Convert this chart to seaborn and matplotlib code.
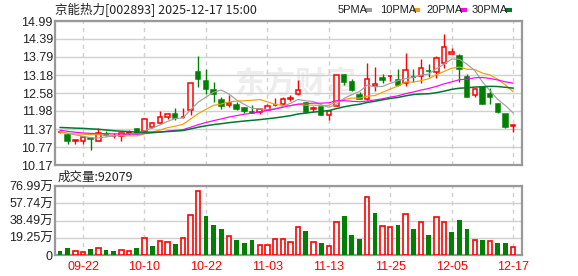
import numpy as np
import pandas as pd
import matplotlib
matplotlib.use("Agg")
import matplotlib.pyplot as plt
from matplotlib.patches import Rectangle
import seaborn as sns

# ---------------- data ----------------
dates = ["09-17", "09-18", "09-19", "09-22", "09-23", "09-24", "09-25", "09-26", "09-29", "09-30",
         "10-09", "10-10", "10-13", "10-14", "10-15", "10-16", "10-17", "10-20", "10-21", "10-22",
         "10-23", "10-24", "10-27", "10-28", "10-29", "10-30", "10-31", "11-03", "11-04", "11-05",
         "11-06", "11-07", "11-10", "11-11", "11-12", "11-13", "11-14", "11-17", "11-18", "11-19",
         "11-20", "11-21", "11-24", "11-25", "11-26", "11-27", "11-28", "12-01", "12-02", "12-03",
         "12-04", "12-05", "12-08", "12-09", "12-10", "12-11", "12-12", "12-15", "12-16", "12-17"]

opens = [11.26, 11.19, 10.98, 10.99, 11.07, 10.97, 11.21, 11.14, 11.13, 11.25,
         11.37, 11.30, 11.45, 11.59, 11.76, 11.87, 11.76, 12.00, 13.29, 12.99,
         12.67, 12.36, 12.17, 12.17, 12.07, 11.95, 11.95, 12.02, 12.17, 12.20,
         12.39, 12.56, 12.26, 12.06, 12.11, 11.85, 12.15, 13.19, 12.96, 12.52,
         12.39, 12.81, 13.07, 13.14, 13.00, 12.91, 13.13, 13.16, 13.33, 13.27,
         13.60, 13.89, 13.82, 13.12, 12.52, 12.78, 12.56, 12.20, 11.87, 11.48]
highs = [11.31, 11.22, 11.05, 11.12, 11.09, 11.41, 11.32, 11.24, 11.25, 11.35,
         11.40, 11.75, 11.62, 11.98, 11.90, 12.09, 12.07, 12.93, 13.82, 13.40,
         12.94, 12.44, 12.50, 12.28, 12.12, 12.18, 12.05, 12.20, 12.40, 12.43,
         12.51, 13.01, 12.27, 12.14, 12.14, 11.99, 13.19, 13.20, 13.06, 12.62,
         13.57, 13.44, 13.21, 13.18, 13.39, 13.93, 13.37, 13.71, 13.55, 13.82,
         14.55, 14.08, 13.87, 13.20, 12.74, 12.80, 12.76, 12.24, 11.88, 11.52]
lows = [11.25, 10.88, 10.88, 10.88, 10.66, 10.96, 11.14, 11.06, 10.97, 11.19,
        11.20, 11.28, 11.40, 11.56, 11.70, 11.68, 11.74, 11.85, 12.78, 12.56,
        12.28, 12.06, 12.10, 12.00, 11.90, 11.90, 11.88, 12.00, 12.15, 12.17,
        12.30, 12.50, 11.91, 11.93, 11.84, 11.68, 12.13, 12.86, 12.66, 12.37,
        12.35, 12.64, 12.93, 12.98, 12.80, 12.83, 12.95, 12.92, 13.12, 13.09,
        13.43, 13.87, 12.96, 12.46, 12.43, 12.21, 12.20, 11.90, 11.41, 11.29]
closes = [11.28, 10.99, 11.00, 11.10, 11.04, 11.24, 11.17, 11.15, 11.24, 11.27,
          11.24, 11.70, 11.56, 11.77, 11.87, 11.74, 11.78, 12.92, 13.05, 12.72,
          12.56, 12.14, 12.26, 12.04, 11.99, 11.91, 12.03, 12.15, 12.19, 12.39,
          12.41, 12.67, 11.93, 12.07, 11.85, 11.98, 13.18, 12.94, 12.67, 12.39,
          13.05, 12.88, 13.03, 13.16, 12.86, 13.36, 13.10, 13.43, 13.31, 13.76,
          14.12, 13.96, 13.40, 12.46, 12.73, 12.21, 12.45, 11.96, 11.44, 11.50]
# volume in 万 (10k lots)
volumes = [4.5, 7.8, 4.1, 3.0, 6.7, 7.4, 5.6, 4.5, 5.2, 4.1,
           7.8, 18.6, 10.0, 15.2, 14.1, 12.3, 18.6, 44.3, 71.0, 43.5,
           33.5, 29.0, 20.8, 16.7, 13.4, 16.7, 10.8, 10.8, 17.5, 17.5,
           14.1, 30.9, 26.8, 14.1, 13.4, 10.0, 36.4, 43.5, 22.3, 17.9,
           64.3, 46.9, 32.0, 30.9, 33.5, 45.4, 29.0, 36.4, 22.3, 42.0,
           36.4, 25.7, 39.0, 29.0, 16.4, 16.7, 15.2, 13.4, 13.4, 9.21]
# closes of the 29 sessions before the window (estimated so the MA lines start where shown)
earlier_closes = [11.30, 11.36, 11.33, 11.55, 11.63, 11.90, 11.92, 11.72, 11.68, 11.75,
                  11.70, 11.62, 11.55, 11.40, 11.30, 11.25, 11.28, 11.32, 11.30, 11.35,
                  11.26, 11.20, 11.22, 11.18, 11.24, 11.30, 11.28, 11.32, 11.30]

ma_periods = [5, 10, 20, 30]
ma_names = ["5PMA", "10PMA", "20PMA", "30PMA"]
ma_colors = ["#a0a0a0", "#f0a000", "#ff00ff", "#007832"]

price_ticks = [14.99, 14.39, 13.79, 13.18, 12.58, 11.98, 11.37, 10.77, 10.17]
vol_ticks = [76.99, 57.74, 38.49, 19.25, 0]
vol_tick_labels = ["76.99万", "57.74万", "38.49万", "19.25万", "0"]
date_labels = ["09-22", "10-10", "10-22", "11-03", "11-13", "11-25", "12-05", "12-17"]

title_text = "京能热力[002893] 2025-12-17 15:00"
vol_title = "成交量:92079"

# ---------------- style ----------------
sns.set_style("white")
plt.rcParams["font.family"] = ["Liberation Sans", "Noto Sans CJK SC", "DejaVu Sans"]

RED = "#ff0000"
GREEN = "#008000"
GRID = "#d0d0d0"
FRAME = "#999999"

W, H = 578, 276
fig = plt.figure(figsize=(W / 100, H / 100), dpi=100)

def fx(x):
    return x / W

def fy(y):
    return 1 - y / H

axp = fig.add_axes([fx(55), fy(165), fx(522) - fx(55), fy(21) - fy(165)])
axv = fig.add_axes([fx(55), fy(255), fx(522) - fx(55), fy(186) - fy(255)])

n = len(closes)
idx = np.arange(n)
xlim = (-0.65, 60.15)
label_pos = [dates.index(d) for d in date_labels]

# moving averages (computed over earlier + visible closes)
all_closes = pd.Series(earlier_closes + closes, dtype=float)
ma_frames = []
for p, name in zip(ma_periods, ma_names):
    m = all_closes.rolling(p).mean().iloc[len(earlier_closes):].to_numpy()
    ma_frames.append(pd.DataFrame({"x": idx, "value": m, "ma": name}))
ma_df = pd.concat(ma_frames, ignore_index=True)

for ax in (axp, axv):
    ax.set_xlim(*xlim)
    ax.set_xticks(label_pos)
    ax.xaxis.grid(True, color=GRID, linestyle=(0, (3, 3)), linewidth=1)
    ax.yaxis.grid(True, color=GRID, linestyle="-", linewidth=1)
    ax.set_axisbelow(True)
    for s in ax.spines.values():
        s.set_color(FRAME)
        s.set_linewidth(1.6)
    ax.tick_params(length=0)

# watermark
axp.text(fx(295) * W / (522 - 55) - 55 / (522 - 55), (165 - 84) / 144, "东方财富",
         transform=axp.transAxes, ha="center", va="center",
         fontsize=22, color="#ededed", fontweight="bold", family=["Noto Sans CJK SC"], zorder=0)

# candles
bw = 0.58
for i in idx:
    o, h, l, c = opens[i], highs[i], lows[i], closes[i]
    up = c >= o
    col = RED if up else GREEN
    axp.vlines(i, l, h, color=col, linewidth=1, zorder=3)
    bottom = min(o, c)
    height = max(abs(c - o), 0.012)
    axp.add_patch(Rectangle((i - bw / 2, bottom), bw, height,
                            facecolor="white" if up else GREEN,
                            edgecolor=col, linewidth=1.1, zorder=4))

sns.lineplot(data=ma_df, x="x", y="value", hue="ma", palette=dict(zip(ma_names, ma_colors)),
             ax=axp, legend=False, linewidth=0.85, zorder=5)
for line in axp.get_lines():
    if line.get_color() in ("#007832",):
        line.set_linewidth(1.1)

axp.set_ylim(price_ticks[-1], price_ticks[0])
axp.set_yticks(price_ticks)
axp.set_yticklabels([f"{t:.2f}" for t in price_ticks], fontsize=9, color="#222222")
axp.tick_params(axis="y", pad=1.5)
axp.set_xticklabels([])
axp.set_xlabel("")
axp.set_ylabel("")

# volume bars: colour by close vs previous close
prev = [earlier_closes[-1]] + closes[:-1]
for i in idx:
    up = closes[i] >= prev[i]
    if up:
        axv.bar(i, volumes[i], width=0.56, facecolor="white", edgecolor=RED, linewidth=1.2, zorder=3)
    else:
        axv.bar(i, volumes[i], width=0.62, facecolor=GREEN, edgecolor=GREEN, linewidth=0, zorder=3)

axv.set_ylim(0, vol_ticks[0])
axv.set_yticks(vol_ticks)
axv.set_yticklabels(vol_tick_labels, fontsize=9, color="#222222")
axv.tick_params(axis="y", pad=1.5)
axv.set_xticklabels(date_labels, fontsize=9, color=RED)
axv.tick_params(axis="x", pad=4)

# texts
fig.text(fx(55), fy(10), title_text, ha="left", va="center", fontsize=9, color="#222222",
         family=["Noto Sans CJK SC"])
fig.text(fx(58), fy(177), vol_title, ha="left", va="center", fontsize=9, color="#222222",
         family=["Noto Sans CJK SC"])

legend_items = [(338, 365), (380, 413), (426, 460), (472, 505)]
for (tx, mx), name, col in zip(legend_items, ma_names, ma_colors):
    fig.text(fx(tx), fy(10), name, ha="left", va="center", fontsize=8, color="#222222")
    fig.patches.append(Rectangle((fx(mx), fy(12)), fx(7), 4 / H, transform=fig.transFigure,
                                 facecolor=col, edgecolor="none", figure=fig))

fig.savefig("out.png", dpi=100, facecolor="white")
